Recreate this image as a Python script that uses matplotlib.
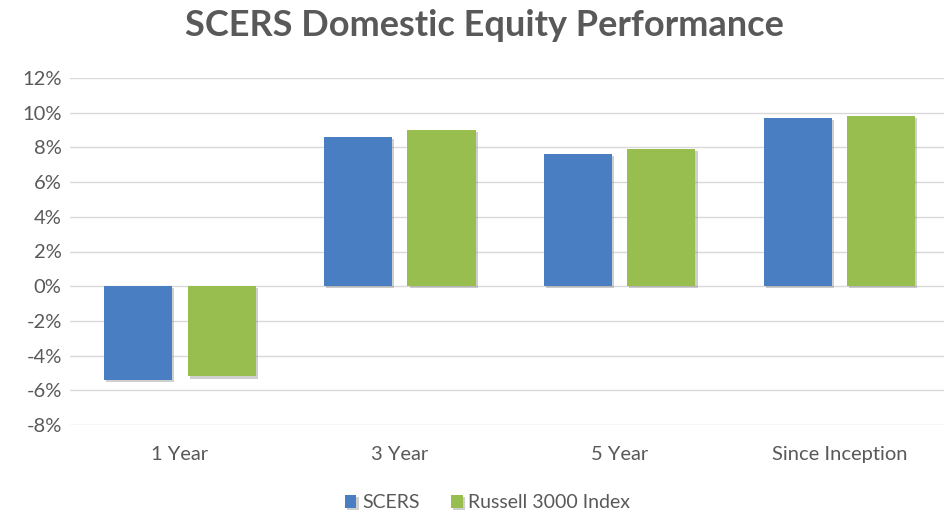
import matplotlib
matplotlib.use("Agg")
import matplotlib.pyplot as plt
import matplotlib.patheffects as pe
import numpy as np
from matplotlib.ticker import FuncFormatter

categories = ["1 Year", "3 Year", "5 Year", "Since Inception"]
scers = [-5.4, 8.6, 7.6, 9.7]
russell = [-5.2, 9.0, 7.9, 9.8]
series_names = ["SCERS", "Russell 3000 Index"]
yticks = [-8, -6, -4, -2, 0, 2, 4, 6, 8, 10, 12]

plt.rcParams['font.family'] = ['Lato', 'DejaVu Sans']
fig = plt.figure(figsize=(9.45, 5.21), dpi=100)
ax = fig.add_axes([70/945, (521-425)/521, 875/945, (425-78)/521])

x = np.arange(len(categories))
w = 0.31
off = 0.19
shadow = [pe.SimplePatchShadow(offset=(1.5, -1.5), alpha=0.35, shadow_rgbFace='#777777'), pe.Normal()]
b1 = ax.bar(x - off, scers, w, color='#4A7EC2', label=series_names[0], zorder=3, path_effects=shadow)
b2 = ax.bar(x + off, russell, w, color='#97BE4F', label=series_names[1], zorder=3, path_effects=shadow)

ax.set_ylim(-8, 12)
ax.set_xlim(-0.5, 3.48)
ax.set_yticks(yticks)
ax.yaxis.set_major_formatter(FuncFormatter(lambda v, p: f"{int(v)}%"))
ax.set_xticks(x)
ax.set_xticklabels(categories)
ax.grid(axis='y', color='#D9D9D9', linewidth=1, zorder=0)
for s in ax.spines.values():
    s.set_visible(False)
ax.tick_params(axis='both', length=0, colors='#595959', labelsize=14.5)
ax.tick_params(axis='y', pad=6)
ax.tick_params(axis='x', pad=15)

fig.text(0.513, 0.952, "SCERS Domestic Equity Performance", ha='center', va='center',
         fontsize=26, fontweight='bold', color='#595959')
fig.legend(handles=[b1, b2], labels=series_names, loc='center', bbox_to_anchor=(0.516, 0.035),
           ncol=2, frameon=False, fontsize=14, handlelength=0.6, handleheight=0.6,
           handletextpad=0.3, columnspacing=1.6, labelcolor='#595959')

fig.savefig("out.png", dpi=100, facecolor='white')
